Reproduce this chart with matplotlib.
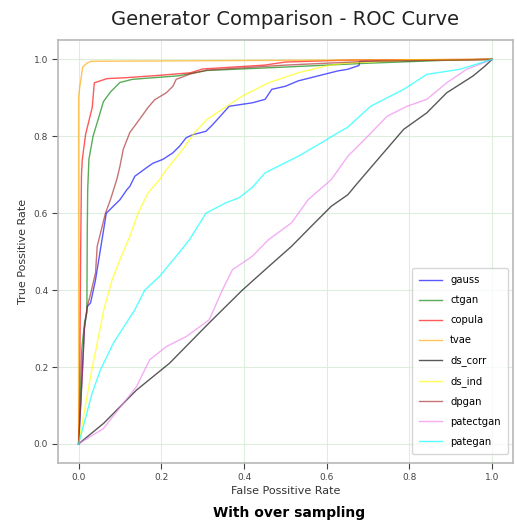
import matplotlib
matplotlib.use("Agg")
import matplotlib.pyplot as plt

# ROC points (fpr, tpr) per generator
gauss_fpr = [0, 0.005, 0.009, 0.014, 0.021, 0.029, 0.041, 0.067, 0.1, 0.116, 0.124, 0.136, 0.164, 0.18,
             0.204, 0.228, 0.244, 0.26, 0.276, 0.308, 0.324, 0.34, 0.364, 0.42, 0.451, 0.467, 0.5, 0.531,
             0.579, 0.627, 0.65, 0.678, 0.68, 1.0]
gauss_tpr = [0, 0.1, 0.19, 0.3, 0.357, 0.367, 0.427, 0.6, 0.635, 0.66, 0.67, 0.696, 0.718, 0.73,
             0.74, 0.757, 0.774, 0.796, 0.804, 0.813, 0.83, 0.849, 0.878, 0.887, 0.896, 0.922, 0.93, 0.944,
             0.957, 0.97, 0.974, 0.984, 0.995, 1.0]

ctgan_fpr = [0, 0.004, 0.008, 0.015, 0.02, 0.021, 0.022, 0.025, 0.035, 0.049, 0.06, 0.077, 0.1, 0.13,
             0.19, 0.24, 0.31, 0.5, 0.7, 0.9, 1.0]
ctgan_tpr = [0, 0.12, 0.25, 0.32, 0.34, 0.55, 0.66, 0.74, 0.8, 0.85, 0.89, 0.915, 0.94, 0.948,
             0.953, 0.957, 0.971, 0.98, 0.99, 0.998, 1.0]

copula_fpr = [0, 0.003, 0.005, 0.007, 0.009, 0.017, 0.033, 0.038, 0.069, 0.11, 0.19, 0.27, 0.3, 0.45,
              0.5, 0.65, 1.0]
copula_tpr = [0, 0.2, 0.5, 0.7, 0.74, 0.805, 0.875, 0.939, 0.95, 0.952, 0.958, 0.965, 0.975, 0.985,
              0.993, 0.998, 1.0]

tvae_fpr = [0, 0, 0.003, 0.006, 0.01, 0.02, 0.03, 1.0]
tvae_tpr = [0, 0.9, 0.93, 0.95, 0.98, 0.99, 0.995, 1.0]

ds_corr_fpr = [0, 0.061, 0.14, 0.22, 0.316, 0.396, 0.451, 0.515, 0.571, 0.611, 0.651, 0.675, 0.73,
               0.786, 0.842, 0.89, 0.954, 0.982, 1.0]
ds_corr_tpr = [0, 0.054, 0.14, 0.21, 0.315, 0.40, 0.453, 0.514, 0.575, 0.618, 0.648, 0.679, 0.748,
               0.818, 0.861, 0.913, 0.957, 0.982, 1.0]

ds_ind_fpr = [0, 0.029, 0.061, 0.081, 0.1, 0.124, 0.144, 0.168, 0.196, 0.212, 0.252, 0.28, 0.311,
              0.34, 0.395, 0.459, 0.531, 0.595, 0.643, 0.8, 1.0]
ds_ind_tpr = [0, 0.175, 0.349, 0.427, 0.479, 0.54, 0.60, 0.653, 0.6875, 0.713, 0.766, 0.809, 0.844,
              0.865, 0.904, 0.939, 0.965, 0.982, 0.99, 0.998, 1.0]

dpgan_fpr = [0, 0.005, 0.01, 0.014, 0.021, 0.029, 0.041, 0.045, 0.065, 0.077, 0.093, 0.1, 0.108, 0.124,
             0.148, 0.168, 0.184, 0.212, 0.228, 0.236, 0.27, 0.31, 0.5, 0.7, 1.0]
dpgan_tpr = [0, 0.1, 0.2, 0.3, 0.357, 0.39, 0.445, 0.514, 0.6, 0.635, 0.69, 0.722, 0.766, 0.81,
             0.845, 0.875, 0.895, 0.913, 0.93, 0.948, 0.962, 0.972, 0.985, 0.995, 1.0]

patectgan_fpr = [0, 0.06, 0.14, 0.172, 0.212, 0.26, 0.316, 0.348, 0.372, 0.42, 0.459, 0.515, 0.555,
                 0.611, 0.651, 0.69, 0.746, 0.794, 0.842, 0.89, 0.938, 1.0]
patectgan_tpr = [0, 0.04, 0.149, 0.219, 0.253, 0.279, 0.323, 0.401, 0.453, 0.488, 0.531, 0.575, 0.635,
                 0.6875, 0.748, 0.79, 0.852, 0.878, 0.896, 0.939, 0.974, 1.0]

pategan_fpr = [0, 0.033, 0.053, 0.084, 0.136, 0.16, 0.196, 0.236, 0.268, 0.308, 0.324, 0.356, 0.388,
               0.42, 0.451, 0.531, 0.587, 0.627, 0.65, 0.706, 0.786, 0.842, 0.921, 1.0]
pategan_tpr = [0, 0.133, 0.193, 0.262, 0.349, 0.40, 0.436, 0.488, 0.531, 0.60, 0.609, 0.627, 0.64,
               0.667, 0.705, 0.748, 0.783, 0.809, 0.823, 0.878, 0.922, 0.961, 0.974, 1.0]

names = ["gauss", "ctgan", "copula", "tvae", "ds_corr", "ds_ind", "dpgan", "patectgan", "pategan"]
colors = ["blue", "green", "red", "orange", "black", "yellow", "brown", "violet", "cyan"]
curves = [(gauss_fpr, gauss_tpr), (ctgan_fpr, ctgan_tpr), (copula_fpr, copula_tpr),
          (tvae_fpr, tvae_tpr), (ds_corr_fpr, ds_corr_tpr), (ds_ind_fpr, ds_ind_tpr),
          (dpgan_fpr, dpgan_tpr), (patectgan_fpr, patectgan_tpr), (pategan_fpr, pategan_tpr)]

fig = plt.figure(figsize=(5.17, 5.21), dpi=100)
ax = fig.add_axes([0.112, 0.111, 0.88, 0.812])

for name, c, (fpr, tpr) in zip(names, colors, curves):
    ax.plot(fpr, tpr, color=c, alpha=0.65, lw=1.0, label=name)

ax.grid(True, color="#dcefdc", lw=0.8)
ax.set_axisbelow(True)
for s in ax.spines.values():
    s.set_color("#b8b8b8")
    s.set_linewidth(1.2)
ax.tick_params(labelsize=6.5, colors="#444444", length=4, width=0.8, pad=3)
ax.set_xticks([0.0, 0.2, 0.4, 0.6, 0.8, 1.0])
ax.set_yticks([0.0, 0.2, 0.4, 0.6, 0.8, 1.0])

ax.set_xlabel("False Possitive Rate", fontsize=8, color="#333333", labelpad=3)
ax.set_ylabel("True Possitive Rate", fontsize=8, color="#333333")
ax.set_title("Generator Comparison - ROC Curve", fontsize=14, color="#222222", pad=11)

leg = ax.legend(loc="lower right", fontsize=7.2, labelspacing=1.0, handlelength=2.3,
                borderpad=0.7, frameon=True, bbox_to_anchor=(1.0, 0.01))
leg.get_frame().set_edgecolor("#cccccc")

fig.text(0.56, 0.002, "With over sampling", ha="center", va="bottom",
         fontsize=10, fontweight="bold", color="black")

fig.savefig("out.png", dpi=100)
